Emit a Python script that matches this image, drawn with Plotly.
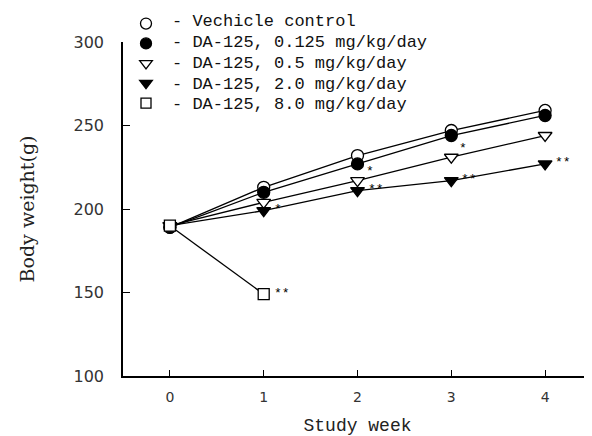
import plotly.graph_objects as go

weeks = [0, 1, 2, 3, 4]
vehicle = [189, 213, 232, 247, 259]
dose_0125 = [189, 210, 227, 244, 256]
dose_05 = [190, 204, 217, 231, 244]
dose_2 = [190, 199, 211, 217, 227]
weeks_8 = [0, 1]
dose_8 = [190, 149]

legend_labels = [
    "- Vechicle control",
    "- DA-125, 0.125 mg/kg/day",
    "- DA-125, 0.5 mg/kg/day",
    "- DA-125, 2.0 mg/kg/day",
    "- DA-125, 8.0 mg/kg/day",
]

# significance marks
sig_x = [1, 1, 2, 2, 3, 3, 4]
sig_y = [199, 149, 217, 211, 231, 217, 227]
sig_text = ["*", "**", "*", "**", "*", "**", "**"]
sig_upper = [False, False, True, False, True, False, False]

FONT = "Liberation Mono"
W, H = 584, 428
ML, MT, MB = 115, 34, 60
PH = H - MT - MB
PW = W - ML

fig = go.Figure()

series = [
    (weeks, vehicle, "circle", "white"),
    (weeks, dose_0125, "circle", "black"),
    (weeks, dose_05, "triangle-down", "white"),
    (weeks, dose_2, "triangle-down", "black"),
    (weeks_8, dose_8, "square", "white"),
]
for (xs, ys, sym, fill) in series:
    fig.add_trace(go.Scatter(
        x=xs, y=ys, mode="lines+markers", showlegend=False,
        line=dict(color="black", width=1.3),
        marker=dict(symbol=sym, size=12 if sym != "square" else 11, color=fill,
                    line=dict(color="black", width=1.3)),
    ))
# legend symbols (labels drawn as annotations for tighter spacing)
for i, (xs, ys, sym, fill) in enumerate(series):
    fig.add_trace(go.Scatter(
        x=[None], y=[None], mode="markers", name=" " * (i + 1), showlegend=True,
        marker=dict(symbol=sym, size=11 if sym != "square" else 10, color=fill,
                    line=dict(color="black", width=1.3)),
    ))

ROW0, ROWH = 14, 20.7
for i, lab in enumerate(legend_labels):
    fy = ROW0 + ROWH * i
    fig.add_annotation(xref="paper", yref="paper", x=(162 - ML) / PW,
                       y=1 - (fy - MT) / PH, text=lab, showarrow=False,
                       xanchor="left", yanchor="middle",
                       font=dict(family=FONT, size=17, color="#111"))

for sx, sy, st, up in zip(sig_x, sig_y, sig_text, sig_upper):
    fig.add_annotation(x=sx, y=sy, text=st, showarrow=False, xanchor="left",
                       xshift=6 if up else 8, yshift=9 if up else 1,
                       font=dict(family=FONT, size=13, color="black"))

fig.update_layout(
    width=W, height=H,
    margin=dict(l=ML, r=0, t=MT, b=MB, autoexpand=False),
    paper_bgcolor="white", plot_bgcolor="white",
    font=dict(family=FONT, size=13, color="#222"),
    legend=dict(x=3 / PW, y=1.1, xanchor="left", yanchor="top",
                bgcolor="rgba(0,0,0,0)", font=dict(family=FONT, size=13, color="#111"),
                tracegroupgap=0, itemwidth=30),
)
fig.update_xaxes(
    range=[-0.5, 4.5], tickvals=weeks, ticktext=[str(w) for w in weeks],
    showline=True, linecolor="black", linewidth=1.5, ticks="inside", ticklen=6,
    tickcolor="black", showgrid=False, zeroline=False, automargin=False,
    ticklabelstandoff=7,
    tickfont=dict(family="DejaVu Sans", size=14, color="#333"),
    title=dict(text="Study week", font=dict(family=FONT, size=18, color="#222"), standoff=17),
)
fig.update_yaxes(
    range=[100, 300], tickvals=[100, 150, 200, 250, 300],
    showline=True, linecolor="black", linewidth=1.5, ticks="inside", ticklen=7,
    tickcolor="black", showgrid=False, zeroline=False, ticklabelstandoff=14,
    automargin=False,
    tickfont=dict(family="DejaVu Sans", size=16, color="#333"),
    title=dict(text="Body weight(g)", font=dict(family="DejaVu Serif", size=19, color="#222"), standoff=34),
)

fig.write_html("out.html")
